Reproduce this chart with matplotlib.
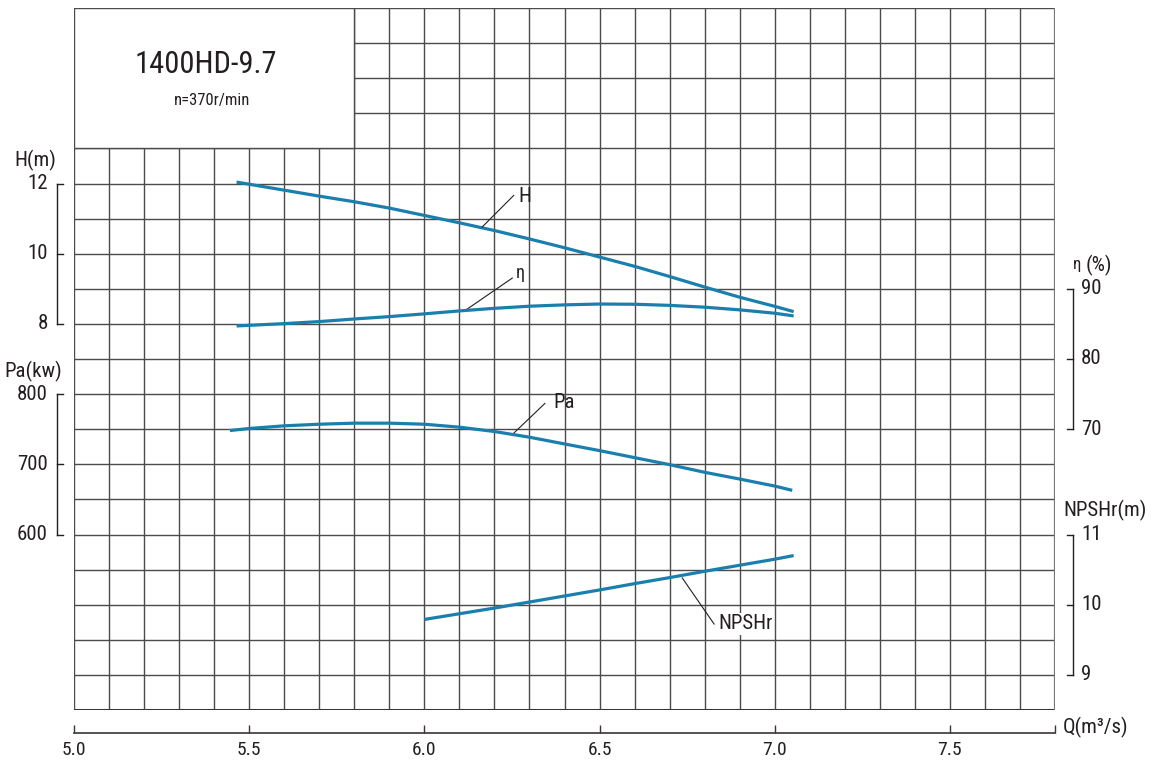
import matplotlib
matplotlib.use('Agg')
import matplotlib.pyplot as plt
from matplotlib.transforms import blended_transform_factory
from matplotlib.patches import Rectangle

FONT = ['Roboto Condensed', 'DejaVu Sans']
plt.rcParams['font.family'] = FONT

# ---- data ----
Q_H = [5.464, 5.6, 5.7, 5.8, 5.9, 6.0, 6.1, 6.2, 6.3, 6.4, 6.5, 6.6, 6.7, 6.8, 6.9, 7.0, 7.054]
H_vals = [12.04, 11.81, 11.64, 11.48, 11.30, 11.09, 10.88, 10.66, 10.42, 10.17, 9.905,
          9.64, 9.35, 9.05, 8.76, 8.50, 8.35]

Q_eta = [5.464, 5.6, 5.7, 5.8, 5.9, 6.0, 6.1, 6.2, 6.3, 6.4, 6.5, 6.6, 6.7, 6.8, 6.9, 7.0, 7.054]
eta_vals = [84.71, 85.04, 85.33, 85.70, 86.04, 86.43, 86.85, 87.22, 87.52, 87.71, 87.83,
            87.80, 87.64, 87.38, 87.00, 86.52, 86.14]

Q_Pa = [5.445, 5.5, 5.6, 5.7, 5.8, 5.9, 6.0, 6.1, 6.2, 6.3, 6.4, 6.5, 6.6, 6.7, 6.8, 6.9, 7.0, 7.05]
Pa_vals = [748.1, 751.0, 754.8, 757.1, 758.6, 758.6, 757.1, 752.9, 746.7, 738.6, 729.0,
           719.5, 709.5, 699.5, 688.6, 679.0, 669.0, 662.9]

Q_N = [6.0, 6.1, 6.2, 6.3, 6.4, 6.5, 6.6, 6.7, 6.8, 6.9, 7.0, 7.054]
N_vals = [9.79, 9.871, 9.952, 10.038, 10.124, 10.21, 10.30, 10.386, 10.476, 10.562, 10.648, 10.70]

x_ticks = [5.0, 5.5, 6.0, 6.5, 7.0, 7.5]
x_tick_labels = ['5.0', '5.5', '6.0', '6.5', '7.0', '7.5']
H_ticks = [12, 10, 8]
Pa_ticks = [800, 700, 600]
eta_ticks = [90, 80, 70]
N_ticks = [11, 10, 9]

title = '1400HD-9.7'
subtitle = 'n=370r/min'

CURVE = '#1a7fad'
GRID = '#4d4a4a'
TXT = '#231f20'

W, Hpx = 1156, 760
fig = plt.figure(figsize=(W / 100, Hpx / 100), dpi=100)
L, R, T, B = 74, 1055, 8, 710
ax = fig.add_axes([L / W, 1 - B / Hpx, (R - L) / W, (B - T) / Hpx])
ax.set_xlim(5.0, 7.8)
ax.set_ylim(-3, 17)

# twin axes for the other quantities (same pixel mapping as reference)
def twin(lo, hi):
    t = ax.twinx()
    t.set_ylim(lo, hi)
    t.set_axis_off()
    return t

ax_pa = twin(800 + (-3 - 6) * 50, 800 + (17 - 6) * 50)
ax_eta = twin(90 + (-3 - 9) * 5, 90 + (17 - 9) * 5)
ax_n = twin(10 + (-3) / 2, 10 + 17 / 2)

# grid
for i in range(29):
    x = 5.0 + i * 0.1
    ax.axvline(x, color=GRID, lw=1.0, zorder=1)
for j in range(-3, 18):
    ax.axhline(j, color=GRID, lw=1.0, zorder=1)
ax.axhline(-3, color='#3a3535', lw=2.2, zorder=2)
ax.axvline(7.8, color='#777', lw=1.6, zorder=2)

# title box
ax.add_patch(Rectangle((5.0, 13.0), 0.8, 4.0, facecolor='white', edgecolor=GRID,
                       lw=1.0, zorder=3))
ax.text(5.377, 15.40, title, ha='center', va='center', fontsize=22, color=TXT, zorder=4)
ax.text(5.395, 14.37, subtitle, ha='center', va='center', fontsize=12, color=TXT, zorder=4)

# curves
for a, xs, ys in [(ax, Q_H, H_vals), (ax_eta, Q_eta, eta_vals),
                  (ax_pa, Q_Pa, Pa_vals), (ax_n, Q_N, N_vals)]:
    a.plot(xs, ys, color=CURVE, lw=2.3, zorder=5, solid_capstyle='butt',
           solid_joinstyle='round')

# annotations
ax.plot([6.165, 6.255], [10.76, 11.66], color=TXT, lw=0.8, zorder=6)
ax.text(6.269, 11.63, 'H', ha='left', va='center', fontsize=15, color=TXT, zorder=6)
ax.plot([6.122, 6.251], [8.42, 9.306], color=TXT, lw=0.8, zorder=6)
ax.text(6.262, 9.45, 'η', ha='left', va='center', fontsize=13, color=TXT, zorder=6)
ax.plot([6.252, 6.344], [4.857, 5.734], color=TXT, lw=0.8, zorder=6)
ax.text(6.369, 5.77, 'Pa', ha='left', va='center', fontsize=15, color=TXT, zorder=6)
ax.plot([6.736, 6.827], [0.763, -0.551], color=TXT, lw=0.8, zorder=6)
ax.text(6.84, -0.54, 'NPSHr', ha='left', va='center', fontsize=15, color=TXT, zorder=6,
        bbox=dict(facecolor='white', edgecolor='none', pad=1.0))

# axis styling
for s in ['left', 'right', 'top']:
    ax.spines[s].set_visible(False)
ax.spines['bottom'].set_position(('outward', 16.5))
ax.spines['bottom'].set_color('#3a3535')
ax.spines['bottom'].set_linewidth(1.2)
ax.set_yticks([])
ax.set_xticks(x_ticks + [7.8])
ax.set_xticklabels(x_tick_labels + [''], fontsize=14, color=TXT)
ax.tick_params(axis='x', direction='in', length=6, width=1.0, color='#3a3535', pad=6)
ax.text(1063 / W, 1 - 727 / Hpx, 'Q(m³/s)', transform=fig.transFigure, ha='left',
        va='center', fontsize=15, color=TXT)

# bracket scales
def bracket(axis, xpx, ticks, side, labx, tick_dir):
    tr = blended_transform_factory(fig.transFigure, axis.transData)
    xf = xpx / W
    axis.plot([xf, xf], [min(ticks), max(ticks)], transform=tr, color=TXT, lw=1.0,
              clip_on=False)
    for t in ticks:
        axis.plot([xf, xf + tick_dir / W], [t, t], transform=tr, color=TXT, lw=1.0,
                  clip_on=False)
        axis.text(labx / W, t, str(t), transform=tr, ha=side, va='center',
                  fontsize=15, color=TXT)

bracket(ax, 57, H_ticks, 'right', 48, 6)
bracket(ax_pa, 57, Pa_ticks, 'right', 48, 6)
bracket(ax_eta, 1073, eta_ticks, 'left', 1081, -6)
bracket(ax_n, 1073, N_ticks, 'left', 1081, -6)

fig.text(35 / W, 1 - 160 / Hpx, 'H(m)', ha='center', va='center', fontsize=15, color=TXT)
fig.text(33 / W, 1 - 371 / Hpx, 'Pa(kw)', ha='center', va='center', fontsize=15, color=TXT)
fig.text(1073 / W, 1 - 265 / Hpx, 'η', ha='left', va='center', fontsize=12, color=TXT)
fig.text(1086 / W, 1 - 265 / Hpx, '(%)', ha='left', va='center', fontsize=15, color=TXT)
fig.text(1105 / W, 1 - 510 / Hpx, 'NPSHr(m)', ha='center', va='center', fontsize=15, color=TXT)

fig.savefig('out.png', dpi=100, facecolor='white')
